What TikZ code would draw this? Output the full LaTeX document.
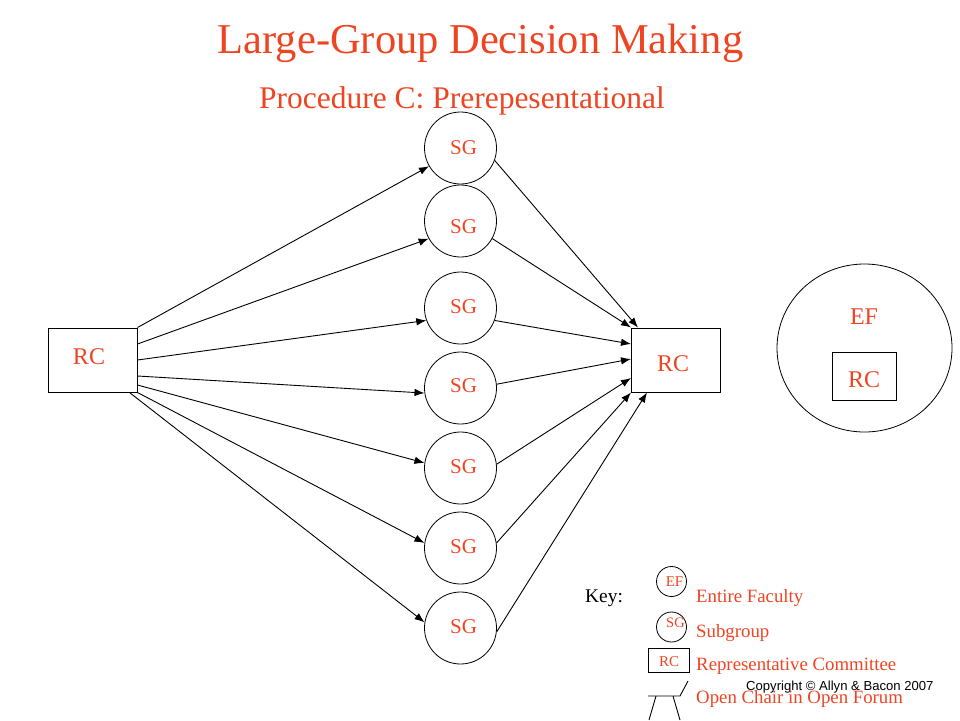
\documentclass[tikz,border=0pt]{standalone}
\usepackage{fontspec}
\setmainfont{Liberation Serif}
\newfontfamily\cpfont{Liberation Sans}
\usetikzlibrary{arrows.meta,shapes.geometric}
\definecolor{ttl}{RGB}{238,68,34}
\begin{document}
\begin{tikzpicture}[x=1pt,y=-1pt,
  sgc/.style={circle,draw,line width=0.8pt,minimum size=72pt,inner sep=0pt},
  sgtxt/.style={inner sep=0pt,text=ttl,font=\fontsize{21}{21}\selectfont},
  rcbox/.style={rectangle,draw,line width=1pt,minimum width=89pt,minimum height=64pt,inner sep=0pt},
  bigtxt/.style={inner sep=0pt,text=ttl,font=\fontsize{24}{24}\selectfont},
  arr/.style={-{Latex[length=10pt,width=7.5pt]},line width=0.9pt},
  keytxt/.style={anchor=base west,inner sep=0pt,text=ttl,font=\fontsize{18.8}{19}\selectfont},
  smalltxt/.style={inner sep=0pt,text=ttl,font=\fontsize{15}{15}\selectfont}]
\useasboundingbox (0,0) rectangle (960,720);

% titles
\node[anchor=base,inner sep=0pt,text=ttl,font=\fontsize{42.5}{43}\selectfont] (title) at (480.5,53) {Large-Group Decision Making};
\node[anchor=base,inner sep=0pt,text=ttl,font=\fontsize{31.5}{32}\selectfont] (subtitle) at (462,108) {Procedure C: Prerepesentational};

% main nodes
\node[rcbox] (rcL) at (92.5,360) {};
\node[bigtxt] (rcLt) at (89,357) {RC};
\node[rcbox] (rcR) at (676,360) {};
\node[bigtxt] (rcRt) at (673,364) {RC};
\node[sgc] (sg1) at (460.5,148) {};
\node[sgc] (sg2) at (460.5,221) {};
\node[sgc] (sg3) at (460.5,308) {};
\node[sgc] (sg4) at (460.5,388) {};
\node[sgc] (sg5) at (460.5,468) {};
\node[sgc] (sg6) at (460.5,548) {};
\node[sgc] (sg7) at (460.5,628) {};
\node[sgtxt] (sg1t) at (463.5,148) {SG};
\node[sgtxt] (sg2t) at (463.5,227) {SG};
\node[sgtxt] (sg3t) at (463.5,307) {SG};
\node[sgtxt] (sg4t) at (463.5,386) {SG};
\node[sgtxt] (sg5t) at (463.5,467) {SG};
\node[sgtxt] (sg6t) at (463.5,547) {SG};
\node[sgtxt] (sg7t) at (463.5,627) {SG};

% entire faculty
\node[ellipse,draw,line width=0.8pt,minimum width=175pt,minimum height=168pt,inner sep=0pt] (ef) at (864.5,348) {};
\node[bigtxt] (eftxt) at (864,317) {EF};
\node[rectangle,draw,line width=1pt,minimum width=64pt,minimum height=48pt,inner sep=0pt] (rcin) at (864,376) {};
\node[bigtxt] (rcintxt) at (864,380) {RC};

% arrows RC -> SG
\draw[arr] (rcL.north east) -- (sg1.210);
\draw[arr] ([yshift=16pt]rcL.east) -- (sg2.209);
\draw[arr] (rcL.east) -- (sg3.200);
\draw[arr] ([yshift=-16pt]rcL.east) -- (sg4.188);
\draw[arr] ([yshift=-25pt]rcL.east) -- (sg5.172);
\draw[arr] (rcL.south east) -- (sg6.172);
\draw[arr] ([xshift=-8pt]rcL.south east) -- (sg7.171);

% arrows SG -> RC
\draw[arr] (sg1.340) -- ([xshift=7pt]rcR.north west);
\draw[arr] (sg2.331) -- (rcR.north west);
\draw[arr] (sg3.340) -- ([yshift=16pt]rcR.west);
\draw[arr] (sg4.6) -- ([yshift=1pt]rcR.west);
\draw[arr] (sg5.6) -- ([yshift=-18pt]rcR.west);
\draw[arr] (sg6.8) -- (rcR.south west);
\draw[arr] (sg7.354) -- ([xshift=16pt]rcR.south west);

% key
\node[anchor=base west,inner sep=0pt,font=\fontsize{19.4}{20}\selectfont] (key) at (585,602) {Key:};
\node[circle,draw,line width=0.8pt,minimum size=30pt,inner sep=0pt] (kef) at (671.5,581.5) {};
\node[smalltxt] (keftxt) at (674.5,582) {EF};
\node[circle,draw,line width=0.8pt,minimum size=30pt,inner sep=0pt] (ksg) at (671.5,627) {};
\node[smalltxt,font=\fontsize{14.5}{15}\selectfont] (ksgtxt) at (675.5,623) {SG};
\node[rectangle,draw,line width=1pt,minimum width=41pt,minimum height=24pt,inner sep=0pt] (krc) at (668.5,660) {};
\node[smalltxt] (krctxt) at (669,662) {RC};
\node[keytxt] (l1) at (696,602) {Entire Faculty};
\node[keytxt] (l2) at (696,637) {Subgroup};
\node[keytxt] (l3) at (696,670) {Representative Committee};
% chair
\draw[line width=0.9pt] (648,696) -- (680,696) -- (688,681);
\draw[line width=0.9pt] (656,696) -- (649,720);
\draw[line width=0.9pt] (673,696) -- (680,720);
\node[anchor=base west,inner sep=0pt,font=\cpfont\fontsize{13.1}{14}\selectfont] (copy) at (746,690) {Copyright \textcopyright{} Allyn \& Bacon 2007};
\node[keytxt] (l4) at (696,703) {Open Chair in Open Forum};
\end{tikzpicture}
\end{document}
